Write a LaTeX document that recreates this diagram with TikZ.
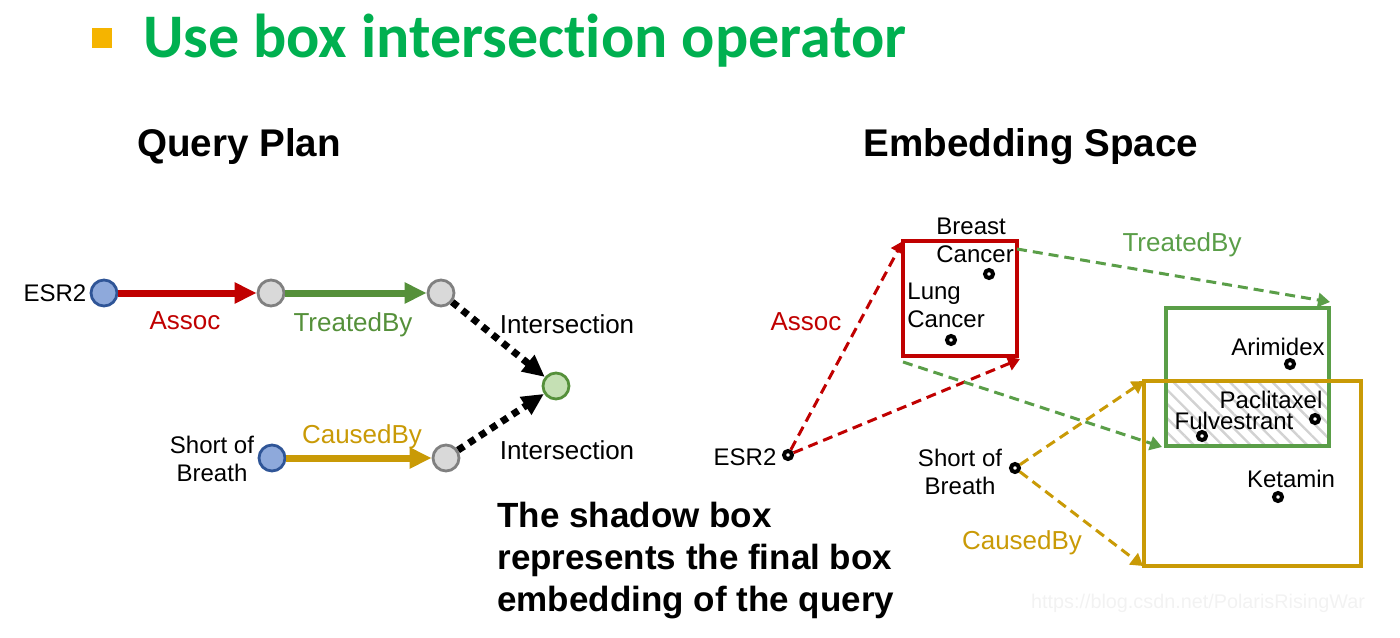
\documentclass[tikz,border=0pt]{standalone}
\usepackage{fontspec}
\setmainfont{Liberation Sans}
\newfontfamily\titlefont[Ligatures=NoCommon]{Carlito}
\usetikzlibrary{arrows.meta,positioning,patterns.meta}
\definecolor{titlegreen}{HTML}{00B050}
\definecolor{bulletorange}{HTML}{F5B400}
\definecolor{assocred}{HTML}{C00000}
\definecolor{treatgreen}{HTML}{55903A}
\definecolor{boxgreen}{HTML}{5A9E48}
\definecolor{causegold}{HTML}{C99A06}
\definecolor{entblue}{HTML}{8EA9DB}
\definecolor{entborder}{HTML}{2F5597}
\definecolor{ansfill}{HTML}{C5E0B4}

\begin{document}
\begin{tikzpicture}[
    x=0.5pt, y=-0.5pt,
    font=\fontsize{12}{14}\selectfont,
    ent/.style={circle, draw=entborder, fill=entblue, line width=1.4pt, minimum size=13pt, inner sep=0pt},
    var/.style={circle, draw=gray, fill=gray!30, line width=1.4pt, minimum size=13pt, inner sep=0pt},
    ans/.style={circle, draw=treatgreen, fill=ansfill, line width=1.4pt, minimum size=13pt, inner sep=0pt},
    rel/.style={line width=3.5pt, -{Triangle[length=11pt, width=10pt]}},
    inter/.style={line width=3.5pt, dash pattern=on 3.5pt off 3pt, -{Triangle[length=11pt, width=10pt]}},
    proj/.style={line width=1.5pt, dash pattern=on 5pt off 3pt, -{Triangle[length=6pt, width=7pt]}},
    pt/.style={circle, draw=black, fill=white, line width=2pt, minimum size=4pt, inner sep=0pt},
    lbl/.style={font=\fontsize{13}{15}\selectfont},
    head/.style={font=\bfseries\fontsize{19.3}{22}\selectfont},
    box/.style={line width=2pt}
]
\useasboundingbox (0,0) rectangle (1400,637);

% title
\node[fill=bulletorange, minimum size=10pt, inner sep=0pt] (bullet) at (102,38) {};
\node[anchor=west, text=titlegreen, font=\titlefont\bfseries\fontsize{31}{36}\selectfont] (title) at (136,41) {Use box intersection operator};

\node[head] (qp) at (239,147) {Query Plan};
\node[head] (es) at (1031,147) {Embedding Space};

% query plan
\node[ent] (esr) at (104,293) {};
\node[var] (v1) at (271,293) {};
\node[var] (v2) at (441,293) {};
\node[ans] (ans) at (556,386) {};
\node[ent] (sob) at (272,458) {};
\node[var] (v3) at (446,458) {};

\node (esrtxt) at (55,293) {ESR2};
\node[align=center] (sobtxt) at (212,459) {Short of\\Breath};

\draw[rel, assocred] (esr) -- (v1);
\draw[rel, treatgreen] (v1) -- (v2);
\draw[rel, causegold] (sob) -- (v3);
\draw[inter] (v2) -- (ans);
\draw[inter] (v3) -- (ans);
\node[lbl, text=assocred] (assoctxt) at (185,321) {Assoc};
\node[lbl, text=treatgreen] (treattxt) at (353,325) {TreatedBy};
\node[lbl, text=causegold] (causetxt) at (362,437) {CausedBy};
\node[lbl] (int1) at (567,324) {Intersection};
\node[lbl] (int2) at (567,450) {Intersection};

\node[anchor=north west, align=left, inner sep=0pt, font=\bfseries\fontsize{17.5}{21}\selectfont] (note) at (497,502)
  {The shadow box\\represents the final box\\embedding of the query};

% embedding space
\coordinate (rnw) at (903,241);
\coordinate (rse) at (1017,356);
\coordinate (gnw) at (1166,308);
\coordinate (gse) at (1329,446);
\coordinate (ynw) at (1144,381);
\coordinate (yse) at (1361,566);

\fill[pattern={Lines[angle=-45, distance=5pt, line width=1.2pt]}, pattern color=gray!35] (1166,381) rectangle (1329,446);
\draw[box, assocred] (rnw) rectangle (rse);
\draw[box, boxgreen] (gnw) rectangle (gse);
\draw[box, causegold] (ynw) rectangle (yse);

\node[pt] (esrpt) at (788,455) {};
\node[pt] (sobpt) at (1015,468) {};
\node[pt] (bc) at (989,274) {};
\node[pt] (lc) at (951,340) {};
\node[pt] (ari) at (1290,364) {};
\node[pt] (pac) at (1315,419) {};
\node[pt] (ful) at (1202,436) {};
\node[pt] (ket) at (1278,497) {};

\node[anchor=north west, align=left, inner sep=0pt] (bctxt) at (936,218) {Breast\\Cancer};
\node[anchor=north west, align=left, inner sep=0pt] (lctxt) at (907,283) {Lung\\Cancer};
\node (aritxt) at (1278,347) {Arimidex};
\node (pactxt) at (1271,400) {Paclitaxel};
\node (fultxt) at (1234,421) {Fulvestrant};
\node (kettxt) at (1291,479) {Ketamin};
\node (esr2txt) at (745,457) {ESR2};
\node[align=center] (sob2txt) at (960,472) {Short of\\Breath};

\coordinate (rtip) at (1020,359);
\coordinate (gstart) at (1017,249);
\coordinate (gtip) at (1330,302);
\coordinate (gstart2) at (903,362);
\coordinate (gtip2) at (1162,447);
\coordinate (ytip) at (1143,566);

\draw[proj, assocred] (esrpt) -- (rnw);
\draw[proj, assocred] (esrpt) -- (rtip);
\draw[proj, boxgreen] (gstart) -- (gtip);
\draw[proj, boxgreen] (gstart2) -- (gtip2);
\draw[proj, causegold] (sobpt) -- (ynw);
\draw[proj, causegold] (sobpt) -- (ytip);

\node[lbl, text=assocred] (assoc2txt) at (806,322) {Assoc};
\node[lbl, text=boxgreen] (treat2txt) at (1182,245) {TreatedBy};
\node[lbl, text=causegold] (cause2txt) at (1022,543) {CausedBy};

\node[anchor=west, text=gray!10, font=\fontsize{9.9}{12}\selectfont] (wm) at (1024,603) {https://blog.csdn.net/PolarisRisingWar};
\end{tikzpicture}
\end{document}
